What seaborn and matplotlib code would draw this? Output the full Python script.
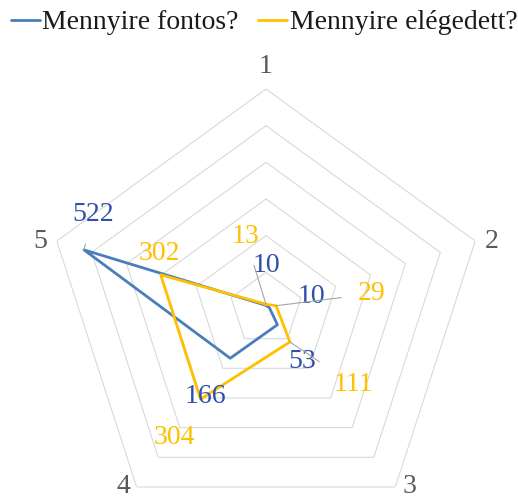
import numpy as np
import pandas as pd
import matplotlib
matplotlib.use('Agg')
import matplotlib.pyplot as plt
from matplotlib.lines import Line2D
import seaborn as sns

# chart values
categories = ['1', '2', '3', '4', '5']
fontos = [10, 10, 53, 166, 522]
elegedett = [13, 29, 111, 304, 302]
series_names = ['Mennyire fontos?', 'Mennyire elégedett?']
ring_levels = [100, 200, 300, 400, 500, 600]

sns.set_style('white')
plt.rcParams['font.family'] = ['Liberation Serif', 'DejaVu Serif']

blue = '#4A7EBB'
blue_txt = '#2F4FA8'
yellow = '#FFC000'
gray_txt = '#595959'

n = len(categories)
angles = np.linspace(0, 2 * np.pi, n, endpoint=False)
angles_closed = np.append(angles, 2 * np.pi)

# long table for seaborn, polygons closed by repeating the first value
rows = []
for name, vals in zip(series_names, [fontos, elegedett]):
    for i, t in enumerate(angles_closed):
        rows.append({'series': name, 'theta': t, 'value': vals[i % n]})
df = pd.DataFrame(rows)

fig = plt.figure(figsize=(5.18, 5.04), dpi=100)
ax = fig.add_axes([0.0888, -0.0496, 0.8494, 0.873], projection='polar')
ax.set_theta_offset(np.pi / 2)
ax.set_theta_direction(-1)
ax.set_ylim(0, 600)
ax.grid(False)
ax.set_xticks([])
ax.set_yticks([])
ax.spines['polar'].set_visible(False)
ax.patch.set_alpha(0)

# pentagon grid rings
for lev in ring_levels:
    ax.plot(angles_closed, [lev] * (n + 1), color='#D9D9D9', lw=0.8, zorder=1)

sns.lineplot(data=df, x='theta', y='value', hue='series', sort=False,
             estimator=None, palette=[blue, yellow], hue_order=series_names,
             lw=2.0, legend=False, ax=ax, zorder=3)
ax.set_xlabel('')
ax.set_ylabel('')

# category labels, placed just outside the outer ring
cat_off = [(0, 23), (16, 0), (14, 0), (-13, 0), (-17, 0)]
for t, lab, (dx, dy) in zip(angles, categories, cat_off):
    ax.annotate(lab, xy=(t, ring_levels[-1]), xytext=(dx, dy),
                textcoords='offset pixels', color=gray_txt, fontsize=20,
                ha='center', va='center')

# data labels: (offset x px, offset y px, leader line)
blue_off = [(0, 40, False), (42, 11, False), (25, -37, False),
            (-25, -38, False), (9, 35, True)]
yellow_off = [(-21, 68, True), (96, 12, True), (64, -43, True),
              (-26, -38, False), (-1, 21, False)]

for vals, offs, col in [(fontos, blue_off, blue_txt), (elegedett, yellow_off, yellow)]:
    for t, v, (dx, dy, lead) in zip(angles, vals, offs):
        kw = {}
        if lead:
            kw['arrowprops'] = dict(arrowstyle='-', color='#A6A6A6', lw=0.8,
                                    shrinkA=10, shrinkB=0)
        ax.annotate(str(v), xy=(t, v), xytext=(dx, dy), textcoords='offset pixels',
                    color=col, fontsize=20, ha='center', va='center',
                    zorder=4, **kw)

handles = [Line2D([0], [0], color=blue, lw=2.0),
           Line2D([0], [0], color=yellow, lw=2.0)]
fig.legend(handles, series_names, loc='upper center', bbox_to_anchor=(0.51, 1.03),
           ncol=2, frameon=False, fontsize=20, handlelength=1.05,
           handletextpad=0.1, columnspacing=0.7, labelcolor='#1a1a1a')

fig.savefig('out.png', dpi=100)
